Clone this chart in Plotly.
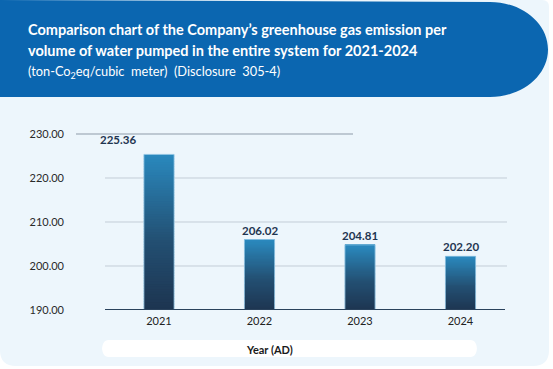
import plotly.graph_objects as go

# ---- data ----
years = ["2021", "2022", "2023", "2024"]
values = [225.36, 206.02, 204.81, 202.20]
tick_values = [190, 200, 210, 220, 230]
tick_labels = ["190.00", "200.00", "210.00", "220.00", "230.00"]
title_lines = [
    "Comparison chart of the Company’s greenhouse gas emission per",
    "volume of water pumped in the entire system for 2021-2024",
    "(ton-Co<sub>2</sub>eq/cubic  meter)  (Disclosure  305-4)",
]
x_title = "Year (AD)"

W, H = 553, 369
L, R, T, B = 105, 46, 120, 59
PW, PH = W - L - R, H - T - B
Y0 = 190
Y1 = Y0 + PH / 4.4


def px(x):
    return (x - L) / PW


def py(y):
    return (H - B - y) / PH


def path(cmds):
    out = []
    for c in cmds:
        if isinstance(c, str):
            out.append(c)
        else:
            out.append(f"{px(c[0]):.5f},{py(c[1]):.5f}")
    return " ".join(out)


def lerp(c1, c2, t):
    return tuple(round(a + (b - a) * t) for a, b in zip(c1, c2))


stops = [(0.0, (29, 52, 80)), (0.45, (35, 80, 115)), (1.0, (42, 137, 190))]


def grad(t):
    for (t0, c0), (t1, c1) in zip(stops[:-1], stops[1:]):
        if t <= t1:
            return lerp(c0, c1, (t - t0) / (t1 - t0))
    return stops[-1][1]


xi = list(range(len(years)))

fig = go.Figure()
N = 60
for k in range(N):
    bases = [Y0 + (v - Y0) * k / N for v in values]
    hts = [min((v - Y0) / N * 1.6, v - b) for v, b in zip(values, bases)]
    c = grad((k + 0.5) / N)
    fig.add_trace(go.Bar(
        x=xi, y=hts, base=bases, width=0.3,
        marker=dict(color=f"rgb{c}", line=dict(width=0)),
        hoverinfo="skip", showlegend=False,
    ))
fig.add_trace(go.Bar(
    x=xi, y=[v - Y0 for v in values], base=[Y0] * len(values), width=0.3,
    marker=dict(color="rgba(0,0,0,0)", line=dict(width=1, color="rgba(150,200,230,0.8)")),
    showlegend=False, hovertemplate="%{customdata[0]}: %{customdata[1]}<extra></extra>",
    customdata=list(zip(years, values)),
))

shapes = []
# card
r = 16
shapes.append(dict(type="path", xref="paper", yref="paper", layer="below",
                   path=path(["M", (0, 0), "L", (542, 0), "Q", (549, 0), (549, 7), "L", (549, 366 - r),
                              "Q", (549, 366), (549 - r, 366), "L", (r, 366), "Q", (0, 366), (0, 366 - r), "Z"]),
                   fillcolor="#EDF6FC", line=dict(width=0)))
# header
cx, cy, rx, ry, top, bot = 490, 49.5, 58, 47.5, 2, 97
k_ = 0.5523
shapes.append(dict(type="path", xref="paper", yref="paper", layer="below",
                   path=path(["M", (0, 0), "L", (cx, top),
                              "C", (cx + k_ * rx, top), (cx + rx, cy - k_ * ry), (cx + rx, cy),
                              "C", (cx + rx, cy + k_ * ry), (cx + k_ * rx, bot), (cx, bot),
                              "L", (0, bot), "Z"]),
                   fillcolor="#0B66B0", line=dict(width=0)))
# x title pill
pr = 8.5
x0p, x1p, y0p, y1p = 100, 479, 340, 357
shapes.append(dict(type="path", xref="paper", yref="paper", layer="below",
                   path=path(["M", (x0p + pr, y0p), "L", (x1p - pr, y0p),
                              "C", (x1p, y0p), (x1p, y1p), (x1p - pr, y1p),
                              "L", (x0p + pr, y1p),
                              "C", (x0p, y1p), (x0p, y0p), (x0p + pr, y0p), "Z"]),
                   fillcolor="#FFFFFF", line=dict(width=0)))
# gridlines
for tv in tick_values[1:-1]:
    shapes.append(dict(type="line", xref="paper", yref="y", x0=0, x1=1, y0=tv, y1=tv,
                       layer="below", line=dict(color="#C3CDD7", width=1)))
shapes.append(dict(type="line", xref="paper", yref="y", x0=px(76), x1=px(353),
                   y0=tick_values[-1], y1=tick_values[-1], layer="below",
                   line=dict(color="#8E9BA9", width=1)))
shapes.append(dict(type="line", xref="paper", yref="y", x0=0, x1=px(505),
                   y0=tick_values[0], y1=tick_values[0], layer="above",
                   line=dict(color="#2A425C", width=2)))

ann = []
title_font = "Lato, 'Open Sans', sans-serif"
for i, (line, yy) in enumerate(zip(title_lines, [29, 50, 72])):
    ann.append(dict(x=px(26), y=py(yy), xref="paper", yref="paper", xanchor="left", yanchor="middle",
                    text=(f"<b>{line}</b>" if i < 2 else line), showarrow=False,
                    font=dict(family=title_font, size=14.5 if i < 2 else 12.8, color="white")))
for i, v in zip(xi, values):
    ann.append(dict(x=i, y=v, xref="x", yref="y", xanchor="center", yanchor="bottom", showarrow=False,
                    text=f"<b>{v:.2f}</b>", xshift=-41 if i == 0 else 0, yshift=6 if i == 0 else 1,
                    font=dict(family=title_font, size=11.5, color="#1F3550")))
ann.append(dict(x=px(269), y=py(349), xref="paper", yref="paper", xanchor="center", yanchor="middle",
                showarrow=False,
                text=f"<b>{x_title}</b>", font=dict(family=title_font, size=11, color="#1A1A1A")))

off = 54 / (PW / len(years))
fig.update_layout(
    width=W, height=H, margin=dict(l=L, r=R, t=T, b=B),
    paper_bgcolor="white", plot_bgcolor="rgba(0,0,0,0)",
    barmode="overlay",
    shapes=shapes, annotations=ann, showlegend=False,
    xaxis=dict(range=[-off, len(years) - off], tickvals=xi, ticktext=years,
               showgrid=False, showline=False, zeroline=False, ticks="",
               tickfont=dict(family=title_font, size=11, color="#222222"), ticklabelstandoff=3),
    yaxis=dict(range=[Y0, Y1], tickvals=tick_values, ticktext=tick_labels,
               showgrid=False, zeroline=False, showline=False, ticks="",
               ticklabelstandoff=40,
               tickfont=dict(family=title_font, size=11, color="#2A2A2A")),
)

fig.write_html("out.html", config={"displayModeBar": False},
               post_script="document.body.style.margin='0';")
